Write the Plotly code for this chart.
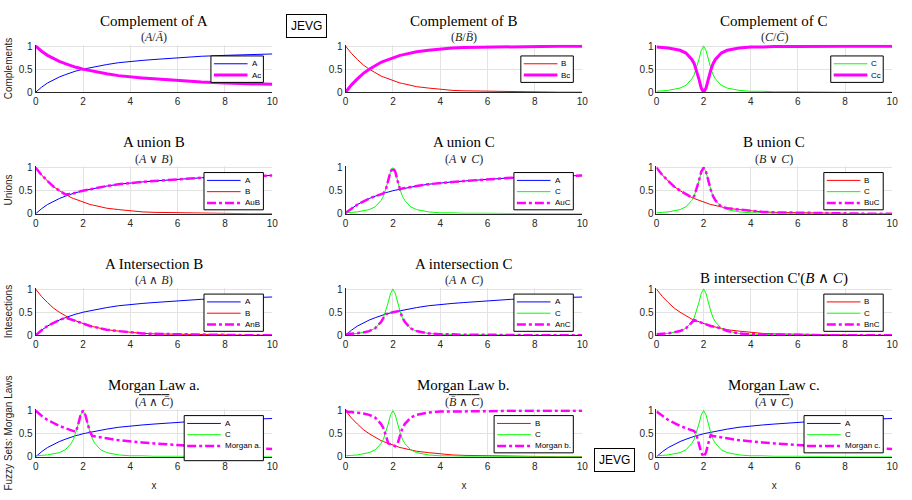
import plotly.graph_objects as go

# ---------------- data ----------------
x = [0, 0.1, 0.25, 0.5, 0.75, 1, 1.25, 1.5, 1.6, 1.7, 1.8, 1.9, 2, 2.1, 2.2, 2.3,
     2.4, 2.5, 2.75, 3, 3.5, 4, 4.5, 5, 6, 7, 8, 9, 10]
A = [0.00, 0.05, 0.11, 0.20, 0.27, 0.33, 0.38, 0.43, 0.44, 0.46, 0.47, 0.49, 0.50,
     0.51, 0.52, 0.53, 0.55, 0.56, 0.58, 0.60, 0.64, 0.67, 0.69, 0.71, 0.75, 0.78,
     0.80, 0.82, 0.83]
B = [1.00, 0.93, 0.84, 0.71, 0.59, 0.50, 0.42, 0.35, 0.33, 0.31, 0.29, 0.27, 0.25,
     0.23, 0.22, 0.20, 0.19, 0.18, 0.15, 0.12, 0.09, 0.06, 0.04, 0.03, 0.02, 0.01,
     0.00, 0.00, 0.00]
C = [0.02, 0.03, 0.03, 0.04, 0.06, 0.09, 0.15, 0.29, 0.38, 0.53, 0.71, 0.91, 1.00,
     0.91, 0.71, 0.53, 0.38, 0.29, 0.15, 0.09, 0.04, 0.02, 0.02, 0.01, 0.01, 0.00,
     0.00, 0.00, 0.00]
x_ticks = [0, 2, 4, 6, 8, 10]
y_ticks = [0, 0.5, 1]
y_tick_text = ["0", "0.5", "1"]

# fuzzy-set operations shown in the chart
Ac = [1 - a for a in A]
Bc = [1 - b for b in B]
Cc = [1 - c for c in C]
AuB = [max(a, b) for a, b in zip(A, B)]
AuC = [max(a, c) for a, c in zip(A, C)]
BuC = [max(b, c) for b, c in zip(B, C)]
AnB = [min(a, b) for a, b in zip(A, B)]
AnC = [min(a, c) for a, c in zip(A, C)]
BnC = [min(b, c) for b, c in zip(B, C)]
MorganA = [1 - min(a, 1 - c) for a, c in zip(A, C)]
MorganB = [1 - min(1 - b, c) for b, c in zip(B, C)]
MorganC = [1 - max(a, c) for a, c in zip(A, C)]

# ---------------- layout helpers ----------------
W, H = 912, 500
cols = [(33, 272), (346, 585), (660, 898)]
rows = [(43, 90), (167, 214), (291, 338), (415, 462)]
YTOP = 1.03  # small headroom so lines at 1 are not clipped


def px(v):
    return v / W


def py(v):
    return 1 - v / H


BLUE, RED, GREEN, MAG = "#0000ff", "#ff0000", "#00ff00", "#ff00ff"
ov = "text-decoration:overline"

panels = [
    ("Complement of A", "(<i>A</i>/<i>Ā</i>)",
     [("A", A, BLUE, 1, "solid"), ("Ac", Ac, MAG, 3, "solid")], "Complements", True),
    ("Complement of B", "(<i>B</i>/<i>B̄</i>)",
     [("B", B, RED, 1, "solid"), ("Bc", Bc, MAG, 3, "solid")], None, True),
    ("Complement of C", "(<i>C</i>/<i>C̄</i>)",
     [("C", C, GREEN, 1, "solid"), ("Cc", Cc, MAG, 3, "solid")], None, True),
    ("A union B", "(<i>A</i> ∨ <i>B</i>)",
     [("A", A, BLUE, 1, "solid"), ("B", B, RED, 1, "solid"),
      ("AuB", AuB, MAG, 2.5, "dashdot")], "Unions", True),
    ("A union C", "(<i>A</i> ∨ <i>C</i>)",
     [("A", A, BLUE, 1, "solid"), ("C", C, GREEN, 1, "solid"),
      ("AuC", AuC, MAG, 2.5, "dashdot")], None, False),
    ("B union C", "(<i>B</i> ∨ <i>C</i>)",
     [("B", B, RED, 1, "solid"), ("C", C, GREEN, 1, "solid"),
      ("BuC", BuC, MAG, 2.5, "dashdot")], None, True),
    ("A Intersection B", "(<i>A</i> ∧ <i>B</i>)",
     [("A", A, BLUE, 1, "solid"), ("B", B, RED, 1, "solid"),
      ("AnB", AnB, MAG, 2.5, "dashdot")], "Intesections", True),
    ("A intersection C", "(<i>A</i> ∧ <i>C</i>)",
     [("A", A, BLUE, 1, "solid"), ("C", C, GREEN, 1, "solid"),
      ("AnC", AnC, MAG, 2.5, "dashdot")], None, True),
    ("B intersection C'(<i>B</i> ∧ <i>C</i>)", None,
     [("B", B, RED, 1, "solid"), ("C", C, GREEN, 1, "solid"),
      ("BnC", BnC, MAG, 2.5, "dashdot")], None, True),
    ("Morgan Law a.", "(<span style='" + ov + "'><i>A</i> ∧ <i>C̄</i></span>)",
     [("A", A, BLUE, 1, "solid"), ("C", C, GREEN, 1, "solid"),
      ("Morgan a.", MorganA, MAG, 2.5, "dashdot")], "Fuzzy Sets: Morgan Laws", True),
    ("Morgan Law b.", "(<span style='" + ov + "'><i>B̄</i> ∧ <i>C</i></span>)",
     [("B", B, RED, 1, "solid"), ("C", C, GREEN, 1, "solid"),
      ("Morgan b.", MorganB, MAG, 2.5, "dashdot")], None, True),
    ("Morgan Law c.", "(<span style='" + ov + "'><i>A</i> ∨ <i>C</i></span>)",
     [("A", A, BLUE, 1, "solid"), ("C", C, GREEN, 1, "solid"),
      ("Morgan c.", MorganC, MAG, 2.5, "dashdot")], None, True),
]

fig = go.Figure()
annotations = []
shapes = []
layout = dict(
    width=W, height=H, margin=dict(l=0, r=0, t=0, b=0),
    paper_bgcolor="white", plot_bgcolor="white", showlegend=False,
    font=dict(family="Liberation Sans, Arial, sans-serif", size=10, color="#262626"),
)
SERIF = "Liberation Serif, Times New Roman, serif"

for i, (title, sub, traces, ytitle, grid) in enumerate(panels):
    r, c = divmod(i, 3)
    k = i + 1
    xa = "x" if k == 1 else f"x{k}"
    ya = "y" if k == 1 else f"y{k}"
    x0, x1 = cols[c]
    y0, y1 = rows[r]
    ph = y1 - y0
    y0_ext = y0 - ph * (YTOP - 1)
    for name, ys, col, w, dash in traces:
        fig.add_trace(go.Scatter(x=x, y=ys, name=name, mode="lines",
                                 line=dict(color=col, width=w, dash=dash),
                                 xaxis=xa, yaxis=ya, showlegend=False))
    axkw = dict(showline=True, linecolor="#262626", linewidth=1, mirror=False,
                showgrid=grid, gridcolor="#e3e3e3", gridwidth=1, zeroline=False,
                ticks="", tickfont=dict(size=10, color="#262626"))
    layout["xaxis" if k == 1 else f"xaxis{k}"] = dict(
        domain=[px(x0), px(x1)], anchor=ya, range=[0, 10], tickvals=x_ticks,
        title=dict(text="x", font=dict(size=10), standoff=11) if r == 3 else None,
        **axkw)
    layout["yaxis" if k == 1 else f"yaxis{k}"] = dict(
        domain=[py(y1), py(y0_ext)], anchor=xa, range=[0, YTOP], tickvals=y_ticks,
        ticktext=y_tick_text,
        title=dict(text=ytitle, font=dict(size=10), standoff=4) if ytitle else None,
        **axkw)

    # ---- compact legend box (MATLAB style) ----
    n = len(traces)
    longest = max(len(t[0]) for t in traces)
    bw = 53 if longest <= 2 else (60 if longest == 3 else 80)
    bh = 27 if n == 2 else (46 if k == 10 else 38)
    top = y0 + (10 if n == 2 else 5)
    right = x1 - 9
    left = right - bw
    shapes.append(dict(type="rect", xref="paper", yref="paper",
                       x0=px(left), x1=px(right), y0=py(top + bh), y1=py(top),
                       line=dict(color="black", width=1), fillcolor="white",
                       layer="above"))
    for j, (name, ys, col, w, dash) in enumerate(traces):
        yy = top + 8 + 11.5 * j
        shapes.append(dict(type="line", xref="paper", yref="paper",
                           x0=px(left + 3), x1=px(left + 37), y0=py(yy), y1=py(yy),
                           line=dict(color=col, width=w, dash=dash), layer="above"))
        annotations.append(dict(text=name, x=px(left + 39), y=py(yy),
                                xref="paper", yref="paper", xanchor="left",
                                yanchor="middle", showarrow=False,
                                font=dict(size=8, color="black")))

    cx = px((x0 + x1) / 2)
    if sub is None:
        annotations.append(dict(
            text=title, x=cx, y=py(y0 - 11), xref="paper", yref="paper",
            xanchor="center", yanchor="middle",
            showarrow=False, font=dict(family=SERIF, size=15, color="black")))
    else:
        annotations.append(dict(
            text=title, x=cx, y=py(y0 - 26), xref="paper", yref="paper",
            xanchor="center", yanchor="middle",
            showarrow=False, font=dict(family=SERIF, size=15, color="black")))
        annotations.append(dict(
            text=sub, x=cx, y=py(y0 - 9), xref="paper", yref="paper",
            xanchor="center", yanchor="middle",
            showarrow=False, font=dict(family=SERIF, size=12, color="#262626")))

for (cxp, cyp) in [(307, 22), (618, 465)]:
    annotations.append(dict(
        text="JEVG", x=px(cxp), y=py(cyp), xref="paper", yref="paper",
        xanchor="center", yanchor="middle",
        showarrow=False, bgcolor="white", bordercolor="black", borderwidth=1,
        borderpad=4, font=dict(size=12, color="black")))

layout["annotations"] = annotations
layout["shapes"] = shapes
fig.update_layout(**layout)
fig.write_html("out.html")
